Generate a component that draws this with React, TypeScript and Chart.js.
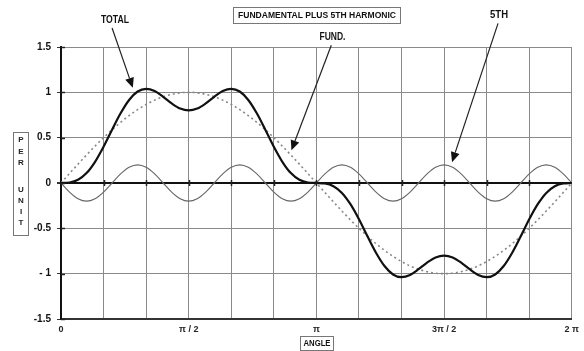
import React, { useEffect, useRef } from "react";
import { Chart, registerables } from "chart.js";

Chart.register(...registerables);

// Angle in degrees (0 .. 2π)
const angles = [
  0, 6, 12, 18, 24, 30, 36, 42, 48, 54, 60, 66, 72, 78, 84, 90, 96, 102, 108, 114, 120,
  126, 132, 138, 144, 150, 156, 162, 168, 174, 180, 186, 192, 198, 204, 210, 216, 222, 228,
  234, 240, 246, 252, 258, 264, 270, 276, 282, 288, 294, 300, 306, 312, 318, 324, 330, 336,
  342, 348, 354, 360,
];

const fundamental = [
  0, 0.105, 0.208, 0.309, 0.407, 0.5, 0.588, 0.669, 0.743, 0.809, 0.866, 0.914, 0.951, 0.978,
  0.995, 1, 0.995, 0.978, 0.951, 0.914, 0.866, 0.809, 0.743, 0.669, 0.588, 0.5, 0.407, 0.309,
  0.208, 0.105, 0, -0.105, -0.208, -0.309, -0.407, -0.5, -0.588, -0.669, -0.743, -0.809,
  -0.866, -0.914, -0.951, -0.978, -0.995, -1, -0.995, -0.978, -0.951, -0.914, -0.866, -0.809,
  -0.743, -0.669, -0.588, -0.5, -0.407, -0.309, -0.208, -0.105, 0,
];

const fifth = [
  0, -0.1, -0.173, -0.2, -0.173, -0.1, 0, 0.1, 0.173, 0.2, 0.173, 0.1,
  0, -0.1, -0.173, -0.2, -0.173, -0.1, 0, 0.1, 0.173, 0.2, 0.173, 0.1,
  0, -0.1, -0.173, -0.2, -0.173, -0.1, 0, 0.1, 0.173, 0.2, 0.173, 0.1,
  0, -0.1, -0.173, -0.2, -0.173, -0.1, 0, 0.1, 0.173, 0.2, 0.173, 0.1,
  0, -0.1, -0.173, -0.2, -0.173, -0.1, 0, 0.1, 0.173, 0.2, 0.173, 0.1,
  0,
];

const total = [
  0, 0.005, 0.035, 0.109, 0.234, 0.4, 0.588, 0.769, 0.916, 1.009, 1.039, 1.014, 0.951, 0.878,
  0.821, 0.8, 0.821, 0.878, 0.951, 1.014, 1.039, 1.009, 0.916, 0.769, 0.588, 0.4, 0.234, 0.109,
  0.035, 0.005, 0, -0.005, -0.035, -0.109, -0.234, -0.4, -0.588, -0.769, -0.916, -1.009,
  -1.039, -1.014, -0.951, -0.878, -0.821, -0.8, -0.821, -0.878, -0.951, -1.014, -1.039,
  -1.009, -0.916, -0.769, -0.588, -0.4, -0.234, -0.109, -0.035, -0.005, 0,
];

const xTickValues = [0, 90, 180, 270, 360];
const xTickLabels = ["0", "π / 2", "π", "3π / 2", "2 π"];
const yTickValues = [1.5, 1, 0.5, 0, -0.5, -1, -1.5];
const yTickLabels = ["1.5", "1", "0.5", "0", "-0.5", "- 1", "-1.5"];

const TITLE = "FUNDAMENTAL PLUS 5TH HARMONIC";
const X_TITLE = "ANGLE";
const Y_TITLE = ["P", "E", "R", "U", "N", "I", "T"];
const Y_TITLE_POS = [140, 151.5, 163, 190, 201, 212, 223];

// Callouts: label position, arrow start, arrow tip (in data units: degrees, per unit)
const callouts = [
  { text: "TOTAL", label: [38, 1.8], from: [36, 1.71], to: [50.6, 1.05], w: 28 },
  { text: "FUND.", label: [191.3, 1.61], from: [190.5, 1.52], to: [162.4, 0.36], w: 26 },
  { text: "5TH", label: [308.7, 1.85], from: [308, 1.76], to: [275.6, 0.23], w: 18 },
];

const FONT = '"Liberation Sans", Arial, sans-serif';

function boxText(ctx: CanvasRenderingContext2D, text: string, x: number, y: number, w: number, h: number, tw: number) {
  ctx.fillStyle = "#fff";
  ctx.fillRect(x, y, w, h);
  ctx.strokeStyle = "#777";
  ctx.lineWidth = 1;
  ctx.strokeRect(x + 0.5, y + 0.5, w, h);
  ctx.fillStyle = "#111";
  ctx.textAlign = "center";
  ctx.textBaseline = "middle";
  ctx.fillText(text, x + w / 2 + 0.5, y + h / 2 + 1, tw);
}

const decorPlugin = {
  id: "decor",
  afterDraw(chart: any) {
    const ctx: CanvasRenderingContext2D = chart.ctx;
    const xs = chart.scales.x;
    const ys = chart.scales.y;
    ctx.save();

    // small tick marks on the zero line
    const y0 = ys.getPixelForValue(0);
    ctx.strokeStyle = "#222";
    ctx.lineWidth = 1.5;
    for (let d = 30; d < 360; d += 30) {
      const px = Math.round(xs.getPixelForValue(d)) + 0.5;
      ctx.beginPath();
      ctx.moveTo(px, y0 - 3);
      ctx.lineTo(px, y0 + 3);
      ctx.stroke();
    }
    // y tick marks crossing into plot
    const xl = xs.left;
    ctx.lineWidth = 1.5;
    yTickValues.forEach((v) => {
      const py = Math.round(ys.getPixelForValue(v)) + 0.5;
      ctx.beginPath();
      ctx.moveTo(xl, py);
      ctx.lineTo(xl + 4, py);
      ctx.stroke();
    });

    // Title
    ctx.font = `bold 9px ${FONT}`;
    boxText(ctx, TITLE, 233, 7, 167, 16, 158);
    // x title
    boxText(ctx, X_TITLE, 300, 336, 33, 14, 27);

    // y title vertical
    ctx.fillStyle = "#fff";
    ctx.fillRect(13, 132, 15, 103);
    ctx.strokeStyle = "#777";
    ctx.lineWidth = 1;
    ctx.strokeRect(13.5, 132.5, 15, 103);
    ctx.fillStyle = "#222";
    ctx.font = `bold 8px ${FONT}`;
    ctx.textAlign = "center";
    ctx.textBaseline = "middle";
    Y_TITLE.forEach((ch, i) => {
      ctx.fillText(ch, 21, Y_TITLE_POS[i]);
    });

    // callouts
    callouts.forEach((c) => {
      ctx.font = `bold 10px ${FONT}`;
      ctx.fillStyle = "#111";
      ctx.textAlign = "center";
      ctx.textBaseline = "middle";
      ctx.fillText(c.text, xs.getPixelForValue(c.label[0]), ys.getPixelForValue(c.label[1]), c.w);
      const x1 = xs.getPixelForValue(c.from[0]);
      const y1 = ys.getPixelForValue(c.from[1]);
      const x2 = xs.getPixelForValue(c.to[0]);
      const y2 = ys.getPixelForValue(c.to[1]);
      const ang = Math.atan2(y2 - y1, x2 - x1);
      const hl = 10;
      const hw = 4.5;
      const bx = x2 - hl * Math.cos(ang);
      const by = y2 - hl * Math.sin(ang);
      ctx.strokeStyle = "#222";
      ctx.lineWidth = 1.2;
      ctx.beginPath();
      ctx.moveTo(x1, y1);
      ctx.lineTo(bx, by);
      ctx.stroke();
      ctx.beginPath();
      ctx.moveTo(x2, y2);
      ctx.lineTo(bx + hw * Math.sin(ang), by - hw * Math.cos(ang));
      ctx.lineTo(bx - hw * Math.sin(ang), by + hw * Math.cos(ang));
      ctx.closePath();
      ctx.fillStyle = "#111";
      ctx.fill();
    });

    ctx.restore();
  },
};

const bgPlugin = {
  id: "bg",
  beforeDraw(chart: any) {
    const ctx = chart.ctx;
    ctx.save();
    ctx.fillStyle = "#fff";
    ctx.fillRect(0, 0, chart.width, chart.height);
    ctx.restore();
  },
};

export default function App() {
  const ref = useRef<HTMLCanvasElement | null>(null);

  useEffect(() => {
    if (!ref.current) return;
    const toPts = (arr: number[]) => angles.map((a, i) => ({ x: a, y: arr[i] }));
    const chart = new Chart(ref.current, {
      type: "line",
      data: {
        datasets: [
          {
            label: "TOTAL",
            data: toPts(total),
            borderColor: "#111",
            borderWidth: 2.2,
            pointRadius: 0,
            cubicInterpolationMode: "monotone",
            fill: false,
          },
          {
            label: "FUND.",
            data: toPts(fundamental),
            borderColor: "#888",
            borderWidth: 1.6,
            borderDash: [2, 3],
            pointRadius: 0,
            cubicInterpolationMode: "monotone",
            fill: false,
          },
          {
            label: "5TH",
            data: toPts(fifth),
            borderColor: "#666",
            borderWidth: 1.1,
            pointRadius: 0,
            cubicInterpolationMode: "monotone",
            fill: false,
          },
        ],
      },
      options: {
        responsive: false,
        animation: false,
        layout: { padding: { top: 47, right: 11, left: 0, bottom: 0 } },
        plugins: { legend: { display: false }, tooltip: { enabled: false }, title: { display: false } },
        scales: {
          x: {
            type: "linear",
            min: 0,
            max: 360,
            afterFit: (s: any) => {
              s.height = 32;
            },
            afterBuildTicks: (s: any) => {
              const t = [];
              for (let d = 0; d <= 360; d += 30) t.push({ value: d });
              s.ticks = t;
            },
            ticks: {
              autoSkip: false,
              maxRotation: 0,
              padding: 5,
              color: "#222",
              font: { family: FONT, size: 9, weight: "bold" },
              callback: (v: any) => {
                const i = xTickValues.indexOf(Number(v));
                return i >= 0 ? xTickLabels[i] : "";
              },
            },
            grid: {
              color: "#8a8a8a",
              lineWidth: 1,
              drawTicks: false,
            },
            border: { display: true, color: "#333", width: 2 },
          },
          y: {
            type: "linear",
            min: -1.5,
            max: 1.5,
            afterFit: (s: any) => {
              s.width = 61;
            },
            afterBuildTicks: (s: any) => {
              s.ticks = yTickValues.map((v) => ({ value: v }));
            },
            ticks: {
              padding: 6,
              color: "#111",
              font: { family: FONT, size: 10, weight: "bold" },
              callback: (v: any) => {
                const i = yTickValues.indexOf(Number(v));
                return i >= 0 ? yTickLabels[i] : "";
              },
            },
            grid: {
              color: (c: any) => (c.tick && c.tick.value === 0 ? "#111" : "#8a8a8a"),
              lineWidth: (c: any) => (c.tick && c.tick.value === 0 ? 2 : 1),
              tickLength: 4,
              tickColor: "#333",
            },
            border: { display: true, color: "#111", width: 2 },
          },
        },
      },
      plugins: [bgPlugin, decorPlugin],
    } as any);
    return () => chart.destroy();
  }, []);

  return (
    <div style={{ position: "absolute", left: 0, top: 0, width: 584, height: 351, background: "#fff" }}>
      <canvas ref={ref} width={584} height={351} style={{ display: "block", width: 584, height: 351 }} />
    </div>
  );
}
